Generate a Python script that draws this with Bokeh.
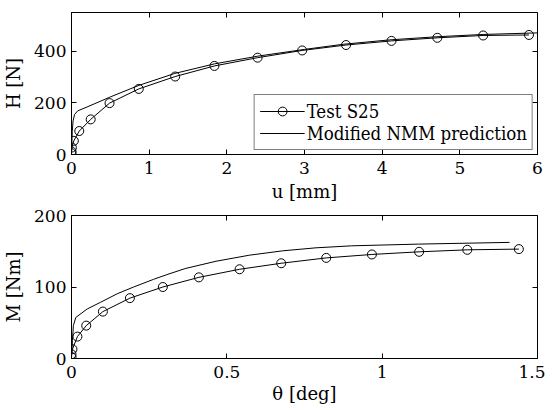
from bokeh.plotting import figure
from bokeh.layouts import column
from bokeh.models import FixedTicker, LinearAxis, Range1d, CustomJSTickFormatter
from bokeh.embed import file_html
from bokeh.resources import INLINE

# ---- data: top panel (horizontal force vs displacement) ----
u_test = [0, 0.0, 0.005, 0.03, 0.10, 0.247, 0.49, 0.866, 1.335, 1.84, 2.396, 2.97, 3.535, 4.12, 4.71, 5.30, 5.89]
H_test = [5, 12, 27, 53, 91, 136, 199, 254, 302, 343, 375, 403, 424, 440, 452, 461, 463]
u_pred = [0, 0.005, 0.01, 0.02, 0.04, 0.08, 0.2, 0.5, 0.87, 1.33, 1.84, 2.4, 3.0, 3.5, 4.1, 4.7, 5.3, 6.0]
H_pred = [0, 45, 90, 130, 155, 169, 184, 223, 268, 314, 351, 381, 407, 427, 444, 456, 465, 471]

# ---- data: bottom panel (moment vs rotation) ----
th_test = [0, 0.0, 0.003, 0.019, 0.0475, 0.101, 0.188, 0.294, 0.41, 0.541, 0.675, 0.82, 0.967, 1.119, 1.274, 1.44]
M_test = [2, 6, 13, 30.6, 46, 65.6, 84.4, 100, 113.5, 124.8, 133.2, 140.7, 145.5, 149.2, 152, 153]
th_pred = [0, 0.003, 0.006, 0.014, 0.051, 0.094, 0.147, 0.2, 0.264, 0.307, 0.366, 0.465, 0.573, 0.68, 0.787, 0.902, 1.117, 1.41]
M_pred = [0, 25, 46, 57.5, 69.4, 78.7, 90.5, 100, 110.7, 117.3, 125.8, 136, 144.5, 150.6, 154.8, 157.6, 160, 162.4]

top_xticks = [0, 1, 2, 3, 4, 5, 6]
top_yticks = [0, 200, 400]
bot_xticks = [0, 0.5, 1, 1.5]
bot_yticks = [0, 100, 200]

FONT_TICK = "DejaVu Serif"
FONT_AXIS = "DejaVu Serif"
FONT_LEG = "DejaVu Serif Condensed"
FS_TICK = "17px"
FS_AXIS = "18px"
FS_LEG = "18.5px"
fmt = CustomJSTickFormatter(code="return String(tick)")
blank = CustomJSTickFormatter(code="return ''")


def style(p, xticks, yticks, xs1, xs2):
    p.grid.visible = False
    p.outline_line_color = "black"
    p.outline_line_width = 1
    for ax in p.xaxis + p.yaxis:
        isx = ax in p.xaxis
        ax.ticker = FixedTicker(ticks=xticks if isx else yticks)
        ax.formatter = fmt
        ax.major_tick_in = 5
        ax.major_tick_out = 0
        ax.minor_tick_line_color = None
        ax.axis_line_color = "black"
        ax.major_label_text_font = FONT_TICK
        ax.major_label_text_font_size = FS_TICK
        ax.major_label_text_color = "black"
        ax.axis_label_text_font = FONT_AXIS
        ax.axis_label_text_font_size = FS_AXIS
        ax.axis_label_text_font_style = "normal"
        ax.axis_label_text_color = "black"
        ax.major_label_standoff = xs1 if isx else 5
        ax.axis_label_standoff = xs2 if isx else 7
    # mirrored ticks on top and right
    for side, t in (("above", xticks), ("right", yticks)):
        ax = LinearAxis(ticker=FixedTicker(ticks=t), formatter=blank)
        ax.major_tick_in = 5
        ax.major_tick_out = 0
        ax.minor_tick_line_color = None
        ax.major_label_standoff = 0
        ax.axis_line_color = None
        p.add_layout(ax, side)


p1 = figure(width=545, height=206, output_backend="svg", toolbar_location=None,
            x_range=Range1d(0, 6), y_range=Range1d(0, 550),
            min_border_left=68, min_border_right=8, min_border_top=12, min_border_bottom=52,
            background_fill_color="white", border_fill_color="white")
p1.xaxis.axis_label = "u [mm]"
p1.yaxis.axis_label = "H [N]"
style(p1, top_xticks, top_yticks, 7, 4)
p1.line(u_test, H_test, line_color="black", line_width=1, legend_label="Test S25")
p1.scatter(u_test, H_test, marker="circle", size=9, fill_color=None, line_color="black",
           line_width=1, legend_label="Test S25")
p1.line(u_pred, H_pred, line_color="black", line_width=1, legend_label="Modified NMM prediction")
lg = p1.legend[0]
lg.location = "bottom_right"
lg.margin = 4
lg.padding = 5
lg.spacing = 0
lg.glyph_width = 45
lg.glyph_height = 22
lg.label_height = 22
lg.label_standoff = 2
lg.label_text_font = FONT_LEG
lg.label_text_font_size = FS_LEG
lg.label_text_color = "black"
lg.border_line_color = "black"
lg.border_line_width = 1
lg.background_fill_alpha = 1

p2 = figure(width=545, height=202, output_backend="svg", toolbar_location=None,
            x_range=Range1d(0, 1.5), y_range=Range1d(0, 200),
            min_border_left=68, min_border_right=8, min_border_top=9, min_border_bottom=50,
            background_fill_color="white", border_fill_color="white")
p2.xaxis.axis_label = "θ [deg]"
p2.yaxis.axis_label = "M [Nm]"
style(p2, bot_xticks, bot_yticks, 7, 2)
p2.line(th_test, M_test, line_color="black", line_width=1)
p2.scatter(th_test, M_test, marker="circle", size=9, fill_color=None, line_color="black", line_width=1)
p2.line(th_pred, M_pred, line_color="black", line_width=1)

layout = column(p1, p2, spacing=0)
open("out.html", "w").write(file_html(layout, INLINE))
